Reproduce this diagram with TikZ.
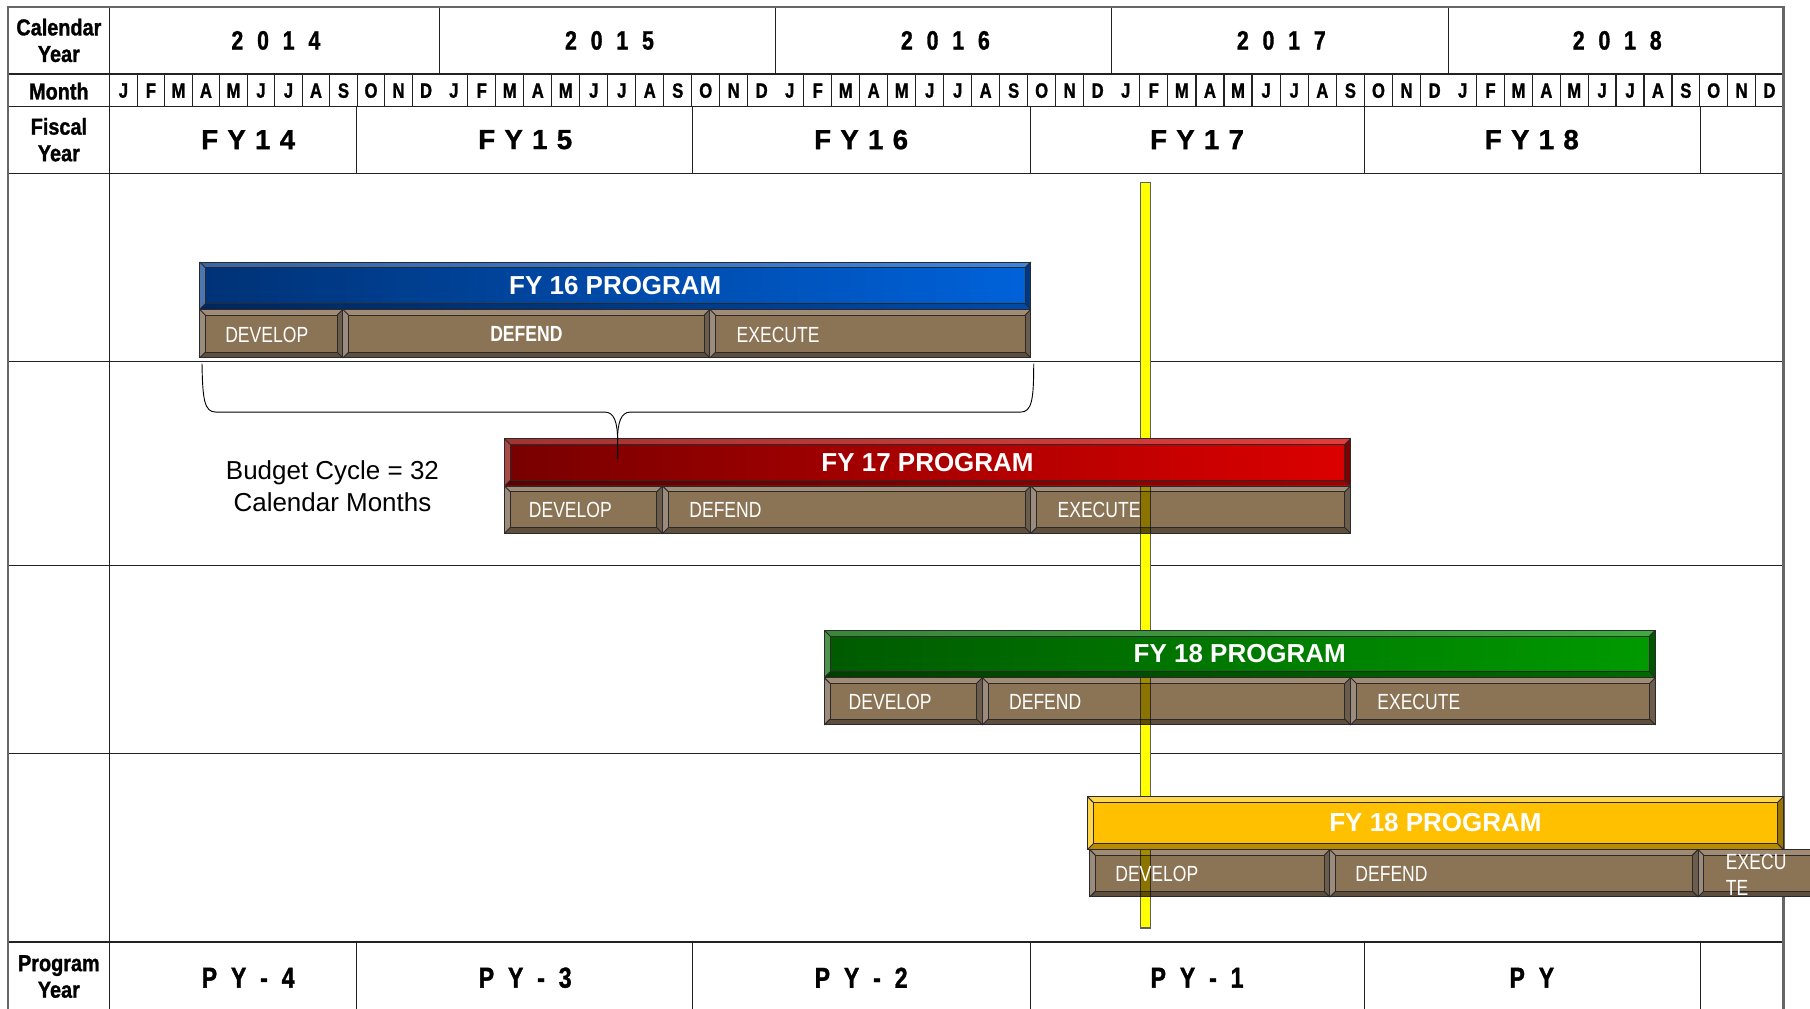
\documentclass[tikz,border=0pt]{standalone}
\usepackage{fontspec}
\setmainfont{Liberation Sans}
\newfontfamily\narf[FakeStretch=0.8]{Liberation Sans}
\newfontfamily\narh[FakeStretch=0.86,FakeBold=1.2]{Liberation Sans}
\newfontfamily\narm[FakeStretch=0.8,FakeBold=1.2]{Liberation Sans}
\newfontfamily\hvy[FakeBold=1]{Liberation Sans}
\definecolor{gridc}{HTML}{222222}
\definecolor{bordc}{HTML}{666666}
\definecolor{edgec}{HTML}{2A2A2A}
\definecolor{brnface}{HTML}{8B7355}
\definecolor{brntop}{HTML}{A28B74}
\definecolor{brnleft}{HTML}{9A8B7C}
\definecolor{brnbot}{HTML}{5E4E3E}
\definecolor{brnright}{HTML}{6C5C4C}
\definecolor{bluA}{HTML}{003276}
\definecolor{bluB}{HTML}{0062DA}
\definecolor{bluTA}{HTML}{3866AA}
\definecolor{bluTB}{HTML}{3A84E2}
\definecolor{bluBA}{HTML}{00265C}
\definecolor{bluBB}{HTML}{004AA8}
\definecolor{redA}{HTML}{780000}
\definecolor{redB}{HTML}{DC0000}
\definecolor{redTA}{HTML}{A23434}
\definecolor{redTB}{HTML}{E23C3C}
\definecolor{redBA}{HTML}{5A0000}
\definecolor{redBB}{HTML}{9E0000}
\definecolor{grnA}{HTML}{005A00}
\definecolor{grnB}{HTML}{009A00}
\definecolor{grnTA}{HTML}{3A863A}
\definecolor{grnTB}{HTML}{40AA40}
\definecolor{grnBA}{HTML}{003E00}
\definecolor{grnBB}{HTML}{006A00}
\definecolor{gldface}{HTML}{FFC000}
\definecolor{gldtop}{HTML}{FFD54A}
\definecolor{gldbot}{HTML}{B88A00}
\definecolor{gldright}{HTML}{9C7400}
\definecolor{ylw}{HTML}{FFFF00}
\newcommand\bw{5}
\newcommand\bevelbox[6]{%
  \path[#6fac] (#2,#3) rectangle (#4,#5);
  \path[#6top] (#2,#3) -- (#4,#3) -- ({#4-\bw},{#3+\bw}) -- ({#2+\bw},{#3+\bw}) -- cycle;
  \path[#6bot] (#2,#5) -- (#4,#5) -- ({#4-\bw},{#5-\bw}) -- ({#2+\bw},{#5-\bw}) -- cycle;
  \path[#6lft] (#2,#3) -- ({#2+\bw},{#3+\bw}) -- ({#2+\bw},{#5-\bw}) -- (#2,#5) -- cycle;
  \path[#6rgt] (#4,#3) -- ({#4-\bw},{#3+\bw}) -- ({#4-\bw},{#5-\bw}) -- (#4,#5) -- cycle;
  \draw[edge] (#2,#3) rectangle (#4,#5);
  \draw[edge] ({#2+\bw},{#3+\bw}) rectangle ({#4-\bw},{#5-\bw});
  \draw[edge] (#2,#3) -- ({#2+\bw},{#3+\bw}) (#4,#3) -- ({#4-\bw},{#3+\bw})
              (#2,#5) -- ({#2+\bw},{#5-\bw}) (#4,#5) -- ({#4-\bw},{#5-\bw});
  \coordinate (#1) at ({(#2+#4)/2},{(#3+#5)/2});
}
\newcommand\gapY{\hspace{12pt}}
\newcommand\gapF{\hspace{8pt}}
\newcommand\gapP{\hspace{12pt}}
\begin{document}
\begin{tikzpicture}[x=1pt,y=-1pt,
  gridline/.style={draw=gridc,line width=1.1pt},
  border/.style={draw=bordc,line width=1.8pt},
  edge/.style={draw=edgec,line width=0.8pt},
  brnfac/.style={fill=brnface},
  brntop/.style={fill=brntop},
  brnbot/.style={fill=brnbot},
  brnlft/.style={fill=brnleft},
  brnrgt/.style={fill=brnright},
  blufac/.style={left color=bluA,right color=bluB},
  blutop/.style={left color=bluTA,right color=bluTB},
  blubot/.style={left color=bluBA,right color=bluBB},
  blulft/.style={fill=bluTA!90!white},
  blurgt/.style={fill=bluBA!70!bluB},
  redfac/.style={left color=redA,right color=redB},
  redtop/.style={left color=redTA,right color=redTB},
  redbot/.style={left color=redBA,right color=redBB},
  redlft/.style={fill=redTA!90!white},
  redrgt/.style={fill=redBB!80!black},
  grnfac/.style={left color=grnA,right color=grnB},
  grntop/.style={left color=grnTA,right color=grnTB},
  grnbot/.style={left color=grnBA,right color=grnBB},
  grnlft/.style={fill=grnTA!90!white},
  grnrgt/.style={fill=grnBB!80!black},
  gldfac/.style={fill=gldface},
  gldtop/.style={fill=gldtop},
  gldbot/.style={fill=gldbot},
  gldlft/.style={fill=gldtop},
  gldrgt/.style={fill=gldright},
  bartext/.style={text=white,inner sep=0pt,font=\fontsize{22.5}{26}\selectfont\bfseries},
  segtext/.style={text=white,inner sep=0pt,anchor=west,font=\narf\fontsize{19}{22}\selectfont},
  labeltext/.style={inner sep=0pt,align=center,font=\narh\fontsize{20}{23}\selectfont\bfseries},
  monthtext/.style={inner sep=0pt,font=\narm\fontsize{18}{20}\selectfont\bfseries},
  yeartext/.style={inner sep=0pt,font=\narm\fontsize{23}{26}\selectfont\bfseries},
  fytext/.style={inner sep=0pt,font=\hvy\fontsize{24}{27}\selectfont\bfseries},
  pytext/.style={inner sep=0pt,font=\narm\fontsize{25}{28}\selectfont\bfseries},
  budtext/.style={inner sep=0pt,align=center,font=\fontsize{22.5}{28}\selectfont},
  bracec/.style={draw=black,line width=0.8pt}]
\useasboundingbox (0,0) rectangle (1568,874);
\fill[white] (0,0) rectangle (1568,874);
% ---------- table grid ----------
\foreach \yy in {64,92,150,313,490,653,816}
  \draw[gridline] (7,\yy) -- (1545,\yy);
\draw[gridline] (95,6) -- (95,880);
\foreach \xx in {381,672,963,1255}
  \draw[gridline] (\xx,6) -- (\xx,64);
\foreach \xx in {309,600,893,1182,1473} {
  \draw[gridline] (\xx,92) -- (\xx,150);
  \draw[gridline] (\xx,816) -- (\xx,880);
}
\foreach \a/\b [count=\k] in {95/381,381/672,672/963,963/1255,1255/1545} {
  \foreach \L [count=\j from 0] in {J,F,M,A,M,J,J,A,S,O,N,D} {
    \node[monthtext] (m\k-\j) at ({\a+(\j+0.5)*(\b-\a)/12},78.5) {\L};
    \ifnum\j>0 \draw[gridline] ({\a+\j*(\b-\a)/12},64) -- ({\a+\j*(\b-\a)/12},92);\fi
  }
}
\draw[border] (7,6) rectangle (1545,880);
% ---------- header labels ----------
\node[labeltext] (lcal) at (51,35) {Calendar\\Year};
\node[labeltext] (lmon) at (51,79) {Month};
\node[labeltext] (lfis) at (51,121) {Fiscal\\Year};
\node[labeltext] (lprg) at (51,846) {Program\\Year};
\node[yeartext] (y14) at (239,35) {2\gapY0\gapY1\gapY4};
\node[yeartext] (y15) at (528,35) {2\gapY0\gapY1\gapY5};
\node[yeartext] (y16) at (819,35) {2\gapY0\gapY1\gapY6};
\node[yeartext] (y17) at (1110,35) {2\gapY0\gapY1\gapY7};
\node[yeartext] (y18) at (1401,35) {2\gapY0\gapY1\gapY8};
\node[fytext] (f14) at (215,121) {F\gapF Y\gapF 1\gapF 4};
\node[fytext] (f15) at (455,121) {F\gapF Y\gapF 1\gapF 5};
\node[fytext] (f16) at (746,121) {F\gapF Y\gapF 1\gapF 6};
\node[fytext] (f17) at (1037,121) {F\gapF Y\gapF 1\gapF 7};
\node[fytext] (f18) at (1327,121) {F\gapF Y\gapF 1\gapF 8};
\node[pytext] (p4) at (215,847) {P\gapP Y\gapP -\gapP 4};
\node[pytext] (p3) at (455,847) {P\gapP Y\gapP -\gapP 3};
\node[pytext] (p2) at (746,847) {P\gapP Y\gapP -\gapP 2};
\node[pytext] (p1) at (1037,847) {P\gapP Y\gapP -\gapP 1};
\node[pytext] (p0) at (1327,847) {P\gapP Y};
% ---------- yellow "today" line ----------
\filldraw[fill=ylw,draw=gray!75!black,line width=1.3pt] (988,158) rectangle (996.5,804);
% ---------- band 1 ----------
\bevelbox{b16}{173}{227}{893}{268}{blu}
\bevelbox{s16a}{173}{268}{297}{310}{brn}
\bevelbox{s16b}{297}{268}{615}{310}{brn}
\bevelbox{s16c}{615}{268}{893}{310}{brn}
% ---------- band 2 ----------
\bevelbox{b17}{437}{380}{1170}{421}{red}
\bevelbox{s17a}{437}{421}{574}{462}{brn}
\bevelbox{s17b}{574}{421}{893}{462}{brn}
\bevelbox{s17c}{893}{421}{1170}{462}{brn}
% ---------- band 3 ----------
\bevelbox{b18}{714}{546}{1434}{587}{grn}
\bevelbox{s18a}{714}{587}{851}{628}{brn}
\bevelbox{s18b}{851}{587}{1170}{628}{brn}
\bevelbox{s18c}{1170}{587}{1434}{628}{brn}
% ---------- band 4 ----------
\bevelbox{b19}{942}{690}{1545}{736}{gld}
\bevelbox{s19a}{944}{736}{1152}{777}{brn}
\bevelbox{s19b}{1152}{736}{1471}{777}{brn}
\bevelbox{s19c}{1471}{736}{1610}{777}{brn}
% ---------- line seen through the phase boxes ----------
\begin{scope}[blend mode=multiply]
  \foreach \ta/\tb in {421/462,587/628,736/777} {
    \fill[ylw] (988,\ta) rectangle (996.5,\tb);
    \draw[gray!75!black,line width=1.3pt] (988,\ta) -- (988,\tb) (996.5,\ta) -- (996.5,\tb);
  }
\end{scope}
% ---------- texts ----------
\node[bartext] (t16) at (b16) {FY 16 PROGRAM};
\node[bartext] (t17) at (b17) {FY 17 PROGRAM};
\node[bartext] (t18) at (b18) {FY 18 PROGRAM};
\node[bartext] (t19) at (b19) {FY 18 PROGRAM};
\node[segtext] (d16) at (195,290) {DEVELOP};
\node[segtext,anchor=center,font=\narf\fontsize{19}{22}\selectfont\bfseries] (e16) at (s16b) {DEFEND};
\node[segtext] (x16) at (638,290) {EXECUTE};
\node[segtext] (d17) at (458,442) {DEVELOP};
\node[segtext] (e17) at (597,442) {DEFEND};
\node[segtext] (x17) at (916,442) {EXECUTE};
\node[segtext] (d18) at (735,608) {DEVELOP};
\node[segtext] (e18) at (874,608) {DEFEND};
\node[segtext] (x18) at (1193,608) {EXECUTE};
\node[segtext] (d19) at (966,757) {DEVELOP};
\node[segtext] (e19) at (1174,757) {DEFEND};
\node[segtext,align=left,font=\narf\fontsize{19}{22.5}\selectfont] (x19) at (1495,757.5) {EXECU\\TE};
% ---------- budget-cycle brace ----------
\coordinate (brL) at (175,315);
\coordinate (brR) at (895.5,315);
\coordinate (brT) at (535,398);
\draw[bracec] (brL) .. controls (175.5,346) and (177,357) .. (187,357) -- (524,357)
  .. controls (532,357) and (535,366) .. (535,381) -- (brT);
\draw[bracec] (535,381) .. controls (535,366) and (538,357) .. (546,357) -- (884,357)
  .. controls (894,357) and (895.5,346) .. (brR);
\node[budtext] (bud) at (288,421) {Budget Cycle = 32\\Calendar Months};
\end{tikzpicture}
\end{document}
